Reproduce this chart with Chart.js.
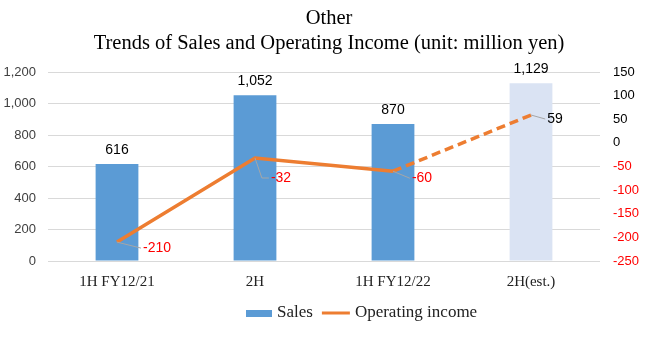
<!DOCTYPE html>
<html>
<head>
<meta charset="utf-8">
<script src="https://cdn.jsdelivr.net/npm/chart.js@4"></script>
<style>
  html, body { margin: 0; padding: 0; background: #fff; }
  #wrap { width: 658px; height: 337px; }
</style>
</head>
<body>
<div id="wrap"><canvas id="salesChart"></canvas></div>
<script>
// Other - Trends of Sales and Operating Income
const categories = ['1H FY12/21', '2H', '1H FY12/22', '2H(est.)'];
const salesValues = [616, 1052, 870, 1129];
const incomeValues = [-210, -32, -60, 59];
const leftTicks = [0, 200, 400, 600, 800, 1000, 1200];
const rightTicks = [-250, -200, -150, -100, -50, 0, 50, 100, 150];

const barColors = ['#5B9BD5', '#5B9BD5', '#5B9BD5', '#DAE3F3'];
const lineColor = '#ED7D31';
const fmt = v => v.toLocaleString('en-US');

// where the line labels sit relative to their point (dx, dy) + leader line
const lineLabelPos = [
    { dx: 40, dy: 6 },
    { dx: 26, dy: 20, elbow: true },
    { dx: 29, dy: 7 },
    { dx: 24, dy: 4 }
];

const labelPlugin = {
    id: 'labels',
    afterDatasetsDraw(chart) {
        const c = chart.ctx;
        c.save();
        c.textBaseline = 'middle';

        // bar labels
        c.font = '14px "Liberation Sans"';
        c.fillStyle = '#000';
        c.textAlign = 'center';
        chart.getDatasetMeta(0).data.forEach((el, i) => {
            c.fillText(fmt(salesValues[i]), el.x, el.y - 14);
        });

        // line labels with leader lines
        c.textAlign = 'left';
        chart.getDatasetMeta(1).data.forEach((el, i) => {
            const p = lineLabelPos[i];
            const txt = fmt(incomeValues[i]);
            const w = c.measureText(txt).width;
            const lx = el.x + p.dx - w / 2;
            const ly = el.y + p.dy;
            c.strokeStyle = '#A6A6A6';
            c.lineWidth = 1;
            c.beginPath();
            c.moveTo(el.x, el.y);
            if (p.elbow) {
                c.lineTo(lx - 9, ly);
            }
            c.lineTo(lx - 2, ly);
            c.stroke();
            c.fillStyle = incomeValues[i] < 0 ? '#FF0000' : '#000';
            c.fillText(txt, lx, ly);
        });

        // legend
        const ly = 313;
        let x = 246;
        c.font = '17px "Liberation Serif"';
        c.fillStyle = '#5B9BD5';
        c.fillRect(x, ly - 3, 26, 7);
        x += 31;
        c.fillStyle = '#222';
        c.fillText('Sales', x, ly);
        x += c.measureText('Sales').width + 9;
        c.strokeStyle = lineColor;
        c.lineWidth = 3;
        c.beginPath();
        c.moveTo(x, ly);
        c.lineTo(x + 28, ly);
        c.stroke();
        x += 33;
        c.fillStyle = '#222';
        c.fillText('Operating income', x, ly);
        c.restore();
    }
};

const ctx = document.getElementById('salesChart').getContext('2d');

new Chart(ctx, {
    data: {
        labels: categories,
        datasets: [
            {
                type: 'bar',
                label: 'Sales',
                data: salesValues,
                backgroundColor: barColors,
                yAxisID: 'y',
                barPercentage: 0.31,
                categoryPercentage: 1,
                order: 2
            },
            {
                type: 'line',
                label: 'Operating income',
                data: incomeValues,
                borderColor: lineColor,
                borderWidth: 3.5,
                pointRadius: 0,
                tension: 0,
                yAxisID: 'y1',
                order: 1,
                segment: {
                    borderDash: s => s.p0DataIndex === 2 ? [9, 5] : undefined
                }
            }
        ]
    },
    options: {
        responsive: true,
        maintainAspectRatio: false,
        animation: false,
        layout: { padding: 0 },
        plugins: {
            legend: { display: false },
            tooltip: { enabled: false },
            title: {
                display: true,
                text: ['Other', 'Trends of Sales and Operating Income (unit: million yen)'],
                color: '#000',
                font: { family: '"Liberation Serif"', size: 20.5, weight: 'normal', lineHeight: 1.22 },
                padding: { top: 6, bottom: 16 }
            }
        },
        scales: {
            x: {
                grid: { display: false },
                border: { display: false },
                afterFit: axis => { axis.height = 76; },
                ticks: {
                    color: '#222',
                    padding: 4,
                    font: { family: '"Liberation Serif"', size: 15 }
                }
            },
            y: {
                position: 'left',
                min: 0,
                max: 1200,
                afterFit: axis => { axis.width = 48; },
                afterBuildTicks: axis => { axis.ticks = leftTicks.map(v => ({ value: v })); },
                grid: { color: '#D9D9D9', drawTicks: false },
                border: { display: false },
                ticks: {
                    color: '#404040',
                    padding: 12,
                    font: { family: '"Liberation Sans"', size: 13 },
                    callback: v => fmt(v)
                }
            },
            y1: {
                position: 'right',
                min: -250,
                max: 150,
                afterFit: axis => { axis.width = 58; },
                afterBuildTicks: axis => { axis.ticks = rightTicks.map(v => ({ value: v })); },
                grid: { display: false, drawTicks: false },
                border: { display: false },
                ticks: {
                    padding: 13,
                    font: { family: '"Liberation Sans"', size: 13 },
                    color: c => c.tick.value < 0 ? '#FF0000' : '#000',
                    callback: v => v
                }
            }
        }
    },
    plugins: [labelPlugin]
});
</script>
</body>
</html>
